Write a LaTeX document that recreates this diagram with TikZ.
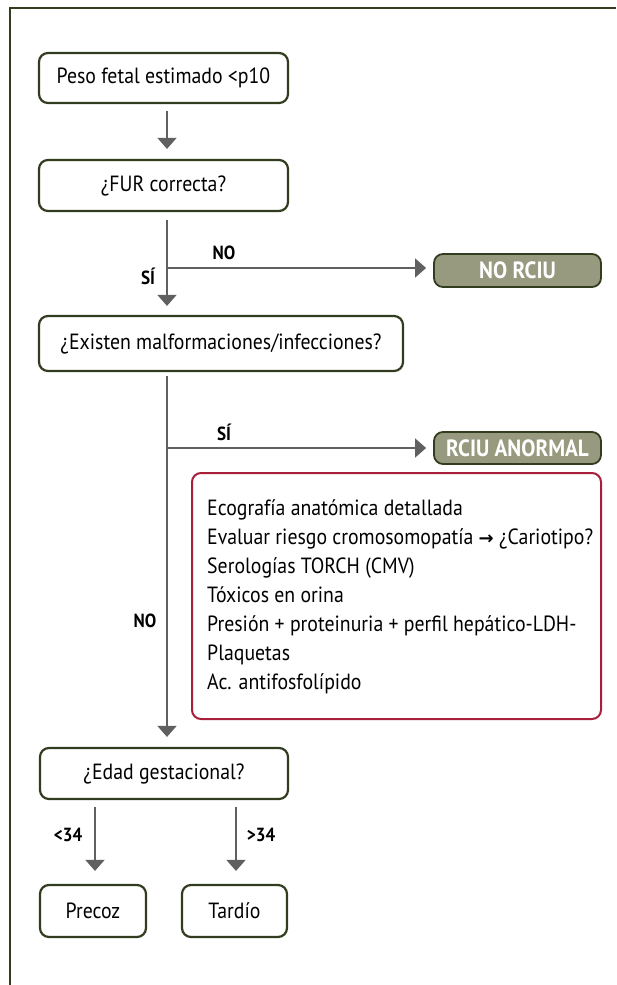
\documentclass[tikz,border=0pt]{standalone}
\usepackage{fontspec}
\setmainfont{PT Sans}[FakeStretch=0.9]
\newfontfamily\arrowfont{DejaVu Sans}
\usetikzlibrary{arrows.meta,calc}
\definecolor{olivedark}{HTML}{323C1E}
\definecolor{olivefill}{HTML}{979A7E}
\definecolor{redline}{HTML}{A81F3B}
\definecolor{arrgrey}{HTML}{606060}
\begin{document}
\begin{tikzpicture}[x=1pt,y=-1pt,
  flowbox/.style={draw=olivedark, line width=2.2pt, rounded corners=9pt, fill=white,
    font=\fontsize{22}{25}\selectfont, inner sep=0pt, align=center},
  resbox/.style={draw=olivedark, line width=1.8pt, rounded corners=9pt, fill=olivefill,
    text=white, font=\fontsize{23.5}{26}\selectfont\bfseries, inner sep=0pt},
  conn/.style={draw=arrgrey, line width=1.6pt},
  arr/.style={conn, -{Triangle[width=19pt,length=11pt]}},
  lbl/.style={font=\fontsize{19}{22}\selectfont\bfseries, inner sep=0pt}
]
\useasboundingbox (0,0) rectangle (616,985);
% frame
\coordinate (fa) at (10,985);
\coordinate (fb) at (10,8);
\coordinate (fc) at (616,8);
\draw[olivedark, line width=1.6pt] (fa) -- (fb) -- (fc);

% nodes
\node[flowbox, minimum width=249pt, minimum height=50pt] (b1) at (163.5,78) {Peso fetal estimado <p10};
\node[flowbox, minimum width=249pt, minimum height=51pt] (b2) at (163.5,185.5) {¿FUR correcta?};
\node[flowbox, minimum width=364pt, minimum height=55pt] (b3) at (221,343.5) {¿Existen malformaciones/infecciones?};
\node[resbox, minimum width=167pt, minimum height=33pt] (nr) at (517.5,270.5) {NO RCIU};
\node[resbox, minimum width=167pt, minimum height=32pt] (ra) at (517.5,448) {RCIU ANORMAL};
\node[draw=redline, line width=2pt, rounded corners=9pt, minimum width=409pt, minimum height=246pt, inner sep=0pt] (rb) at (396.5,596) {};
\node[anchor=west, align=left, inner sep=0pt, font=\fontsize{22}{29}\selectfont] (rt) at (207,596.5) {%
Ecografía anatómica detallada\\
Evaluar riesgo cromosomopatía {\arrowfont\bfseries\fontsize{18}{29}\selectfont →} ¿Cariotipo?\\
Serologías TORCH (CMV)\\
Tóxicos en orina\\
Presión + proteinuria + perfil hepático-LDH-\\
Plaquetas\\
Ac. antifosfolípido};
\node[flowbox, minimum width=248pt, minimum height=51pt] (b4) at (164,773.5) {¿Edad gestacional?};
\node[flowbox, minimum width=106pt, minimum height=52pt] (p) at (93,911) {Precoz};
\node[flowbox, minimum width=105pt, minimum height=52pt] (t) at (234.5,911) {Tardío};

% connectors
\coordinate (cx) at (167,0);
\coordinate (j1) at (167,268);
\coordinate (j2) at (167,448);
\coordinate (lx) at (95,0);
\coordinate (rx) at (236,0);
\draw[arr, shorten <=7pt, shorten >=10pt] (b1.south -| cx) -- (b2.north -| cx);
\draw[arr, shorten <=8pt, shorten >=9pt] (b2.south -| cx) -- (b3.north -| cx);
\draw[arr, shorten >=7pt] (j1) -- (nr.west |- j1);
\draw[arr, shorten <=4pt, shorten >=10pt] (b3.south -| cx) -- (b4.north -| cx);
\draw[arr, shorten >=7pt] (j2) -- (ra.west |- j2);
\draw[arr, shorten <=7pt, shorten >=13pt] (b4.south -| lx) -- (p.north -| lx);
\draw[arr, shorten <=7pt, shorten >=13pt] (b4.south -| rx) -- (t.north -| rx);

% labels
\node[lbl] (l1) at (224,253) {NO};
\node[lbl] (l2) at (148,276) {SÍ};
\node[lbl] (l3) at (224,432) {SÍ};
\node[lbl] (l4) at (145,621) {NO};
\node[lbl] (l5) at (68,835) {<34};
\node[lbl] (l6) at (261,835) {>34};
\end{tikzpicture}
\end{document}
